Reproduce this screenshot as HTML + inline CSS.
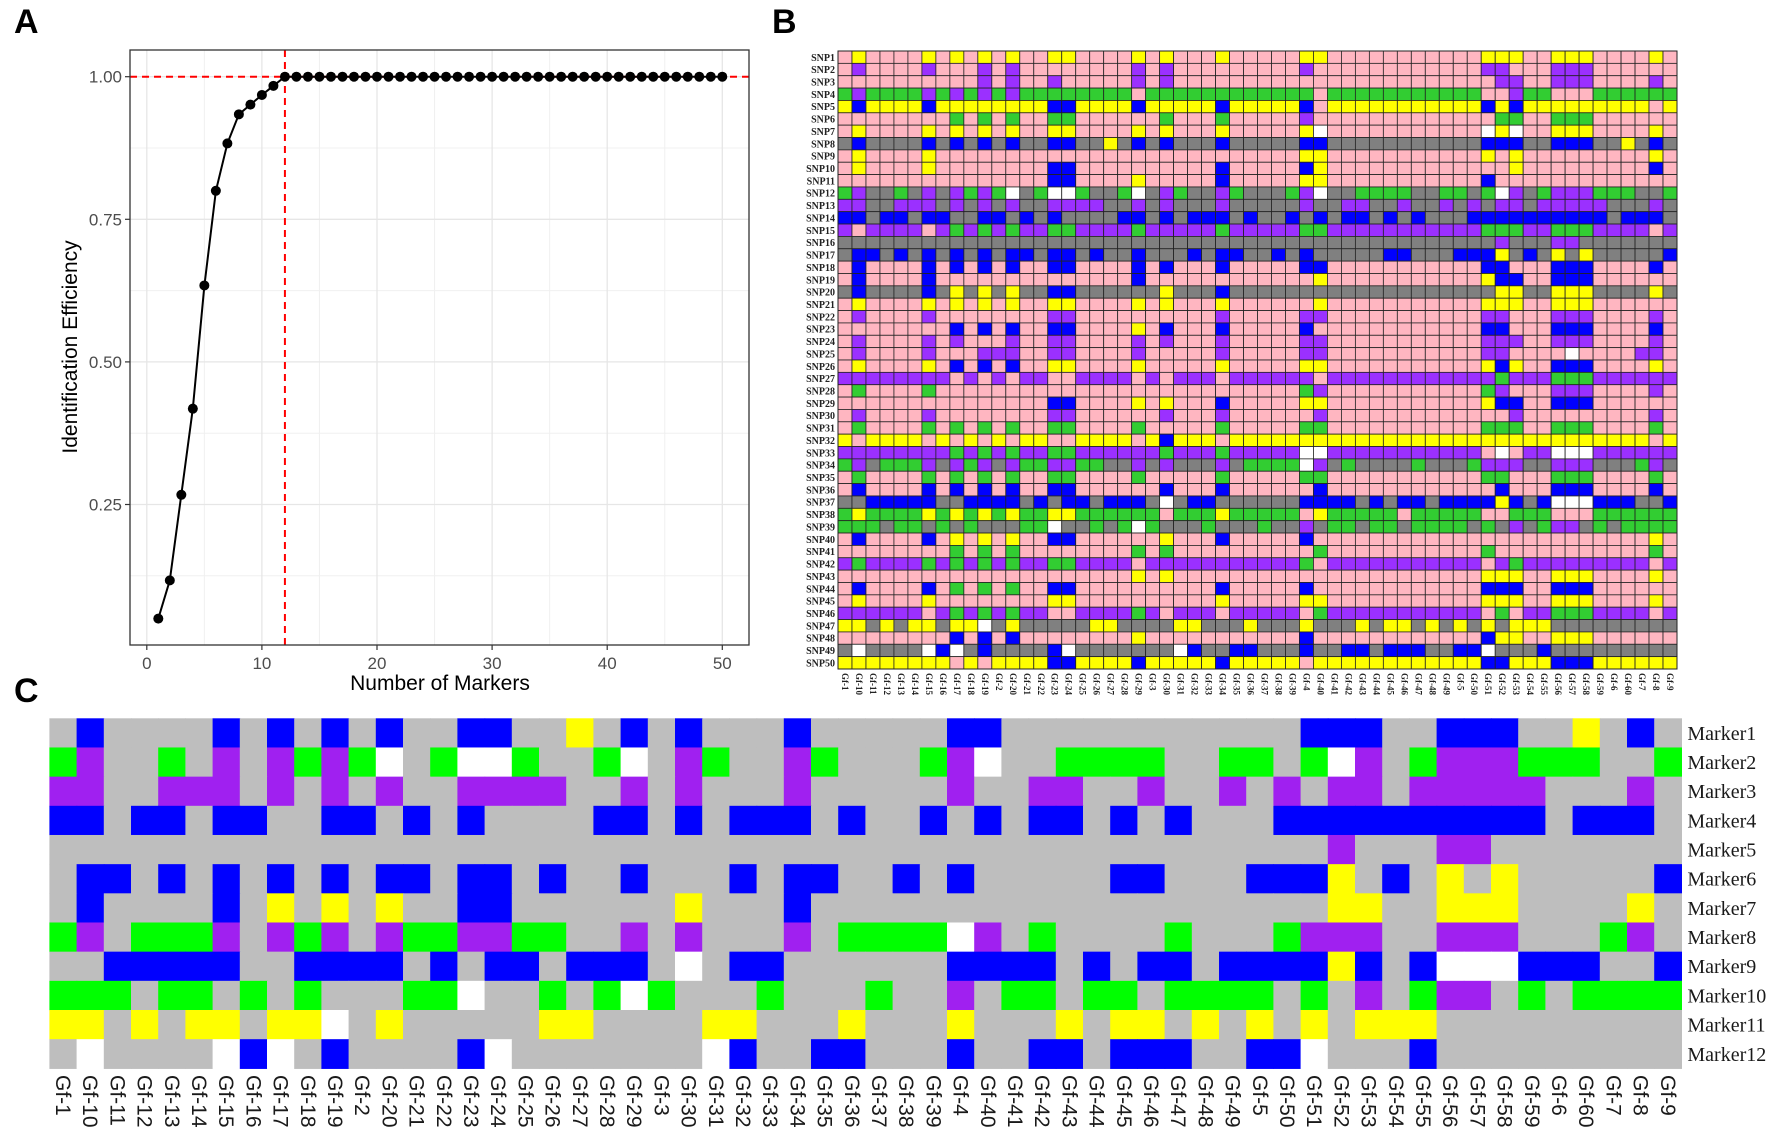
<!DOCTYPE html>
<html><head><meta charset="utf-8">
<style>
html,body{margin:0;padding:0;background:#fff;}
svg{display:block;}
text{font-family:"Liberation Sans",sans-serif;}
.serif{font-family:"Liberation Serif",serif;}
</style></head>
<body>
<svg id="fig" width="1772" height="1140" viewBox="0 0 1772 1140" xmlns="http://www.w3.org/2000/svg">
<rect width="1772" height="1140" fill="#fff"/>
<text x="14" y="33" font-size="34" font-weight="bold">A</text>
<text x="772" y="33" font-size="34" font-weight="bold">B</text>
<text x="14" y="702" font-size="34" font-weight="bold">C</text>
<g id="pa"></g>
<g id="pb"></g>
<g id="pc"></g>
</svg>
<script>
// ---------- Panel A data ----------
const effX = [1,2,3,4,5,6,7,8,9,10,11,12,13,14,15,16,17,18,19,20,21,22,23,24,25,26,27,28,29,30,31,32,33,34,35,36,37,38,39,40,41,42,43,44,45,46,47,48,49,50];
const effY = [0.05,0.117,0.267,0.418,0.634,0.80,0.883,0.934,0.951,0.968,0.984,1,1,1,1,1,1,1,1,1,1,1,1,1,1,1,1,1,1,1,1,1,1,1,1,1,1,1,1,1,1,1,1,1,1,1,1,1,1,1];
const xTicks = [0,10,20,30,40,50];
const yTicks = [0.25,0.50,0.75,1.00];
const yTickLabels = ["0.25","0.50","0.75","1.00"];
const cutoffX = 12;
const cutoffY = 1.0;

// ---------- Panel C data ----------
const genotypes = ["Gf-1","Gf-10","Gf-11","Gf-12","Gf-13","Gf-14","Gf-15","Gf-16","Gf-17","Gf-18","Gf-19","Gf-2","Gf-20","Gf-21","Gf-22","Gf-23","Gf-24","Gf-25","Gf-26","Gf-27","Gf-28","Gf-29","Gf-3","Gf-30","Gf-31","Gf-32","Gf-33","Gf-34","Gf-35","Gf-36","Gf-37","Gf-38","Gf-39","Gf-4","Gf-40","Gf-41","Gf-42","Gf-43","Gf-44","Gf-45","Gf-46","Gf-47","Gf-48","Gf-49","Gf-5","Gf-50","Gf-51","Gf-52","Gf-53","Gf-54","Gf-55","Gf-56","Gf-57","Gf-58","Gf-59","Gf-6","Gf-60","Gf-7","Gf-8","Gf-9"];
const markerNames = ["Marker1","Marker2","Marker3","Marker4","Marker5","Marker6","Marker7","Marker8","Marker9","Marker10","Marker11","Marker12"];
const markerRows = [
"gbggggbgbgbgbggbbggygbgbgggbgggggbbgggggggggggbbbggbbbggygbg",
"GpggGgpgpGpGwgGwwGggGwgpGggpGgggGpwggGGGGggGGgGwpgGpppGGGggG",
"ppggpppgpgpgpggppppggpgpgggpgggggpggppggpggpgpgppgpppppgggpg",
"bbgbbgbbggbbgbgbggggbbgbgbbbgbggbgbgbbgbgbgggbbbbbbbbbbgbbbg",
"gggggggggggggggggggggggggggggggggggggggggggggggpgggppggggggg",
"gbbgbgbgbgbgbbgbbgbggbgggbgbbggbgbgggggbbgggbbbygbgygygggggb",
"gbggggbgygygyggbbggggggygggbgggggggggggggggggggyyggyyyggggyg",
"GpgGGGpgpGpgpGGppGGggpgpgggpgGGGGwpgGggggGgggGpppggpppgggGpg",
"ggbbbbbggbbbbgbgbbgbbbgwgbbggggggbbbbgbgbbgbbbbybgbwwwbbbggb",
"GGGgGGgGgGgggGGwggGgGwGgggGgggGggpgGGgGGgGGGGgGgpgGppgGgGGGG",
"yygygyygyywgygggggyyggggyygggygggygggygyygygygygyyyggggggggg",
"gwggggwbwgbggggbwgggggggwbggbbgggbggbbgbbbggbbwgggbggggggggg"
];

// ---------- Panel B data ----------
const snpNames = Array.from({length:50},(_,i)=>"SNP"+(i+1));
const snpRows = [
"k|y:1,6,8,10,12,15,16,21,23,27,33,34,46,47,48,51,52,53,58",
"k|p:1,6,10,12,21,23,33,46,47,51,52,53",
"k|p:10,12,15,21,23,47,48,51,52,53,58",
"G|p:1,6,8,10,12,48|k:21,34,46,47,51,52,53",
"y|b:1,6,15,16,21,27,33,46,48|k:34,58",
"k|G:8,10,12,15,16,23,27,47,48,51,52,53|p:33",
"k|y:1,6,8,10,12,15,16,21,23,27,33,47,51,52,53,58|w:34,46,48",
"=0",
"k|y:1,6,33,34,46,48,58",
"k|y:1,6,34,48|b:15,16,27,33,58",
"k|b:15,16,27,46|y:21,33,34",
"=1",
"=2",
"=3",
"p|k:1,6,58|G:8,10,12,15,16,21,27,33,34,46,47,48,51,52,53",
"=4",
"=5",
"k|b:1,6,8,10,12,15,16,21,23,27,33,34,46,47,51,52,53,58",
"k|b:1,6,21,47,48,51,52,53|y:34,46",
"=6",
"k|y:1,6,8,10,12,15,16,21,23,27,34,46,47,48,51,52,53",
"k|p:1,6,15,16,27,33,34,46,47,51,52,53,58",
"k|b:8,10,12,15,16,23,27,33,46,47,51,52,53,58|y:21",
"k|p:1,6,8,12,15,16,21,23,27,33,34,46,47,48,51,52,53,58",
"k|p:1,6,10,11,12,15,16,21,27,33,34,46,47,57,58|w:52",
"k|y:1,6,15,16,21,27,33,34,46,48,58|b:8,10,12,47,51,52,53",
"p|k:8,10,12,15,16,21,23,27,34|G:47,51,52,53",
"k|G:1,6,33,46|p:34,47,51,52,53,58",
"k|b:15,16,27,47,48,51,52,53|y:21,23,33,34,46",
"k|p:1,6,15,16,23,27,34,48,58",
"k|G:1,6,8,10,12,15,16,21,27,33,34,46,47,48,51,52,53,58",
"y|k:1,6,8,10,12,15,16,21,27,58|b:23",
"p|G:8,10,12,15,16,23,27|w:33,34,47,51,52,53|k:46,48",
"=7",
"k|G:1,6,8,10,12,15,16,21,27,33,34,46,47,51,52,53,58",
"k|b:1,6,8,10,12,15,16,23,27,34,47,51,52,53,58",
"=8",
"G|y:1,6,8,10,12,15,16,27,34|k:23,33,40,46,47,51,52,53",
"=9",
"k|b:1,6,15,16,27,33|y:8,10,12,23,58",
"k|G:8,10,12,21,23,34,46,58",
"p|G:1,6,8,10,12,15,16,33,48|k:21,34,46,58",
"k|y:21,23,46,47,48,51,52,53,58",
"k|b:1,6,15,16,27,33,46,47,48,51,52,53|G:8,10,12",
"k|y:1,6,15,16,27,33,34,46,47,48,51,52,53,58",
"p|k:6,15,16,23,27,33,46,48,58|G:8,10,12,21,34,47,51,52,53",
"=10",
"k|b:8,10,12,33,46|y:21,47,48,51,52,53",
"=11",
"y|b:15,16,21,27,46,47,51,52,53|k:8,10,33"
];

const NS="http://www.w3.org/2000/svg";
function mk(parent,tag,attrs,txt){const e=document.createElementNS(NS,tag);for(const k in attrs)e.setAttribute(k,attrs[k]);if(txt!==undefined)e.textContent=txt;parent.appendChild(e);return e;}

// ===== Panel A =====
(function(){
const g=document.getElementById('pa');
const L=130,R=749,T=50,B=645;
const sx=v=>146.8+v*11.51;
const sy=v=>504.5-(v-0.25)*570.4;
let bg=mk(g,'rect',{x:L,y:T,width:R-L,height:B-T,fill:'#fff'});


[0.125,0.375,0.625,0.875].forEach(v=>{let l=mk(g,'line',{x1:L,x2:R,y1:sy(v),y2:sy(v),stroke:'#f0f0f0','stroke-width':1});});
[5,15,25,35,45].forEach(v=>{let l=mk(g,'line',{x1:sx(v),x2:sx(v),y1:T,y2:B,stroke:'#f0f0f0','stroke-width':1});});
yTicks.forEach((v,i)=>{
 let l=mk(g,'line',{x1:L,x2:R,y1:sy(v),y2:sy(v),stroke:'#e6e6e6','stroke-width':1.3});
 
 let tk=mk(g,'line',{x1:L-5,x2:L,y1:sy(v),y2:sy(v),stroke:'#333','stroke-width':1.2});
 
 let t=mk(g,'text',{x:L-8,y:sy(v)+6,'font-size':17,fill:'#4d4d4d','text-anchor':'end'},yTickLabels[i]);
 
});
xTicks.forEach(v=>{
 let l=mk(g,'line',{x1:sx(v),x2:sx(v),y1:T,y2:B,stroke:'#e6e6e6','stroke-width':1.3});
 
 let tk=mk(g,'line',{x1:sx(v),x2:sx(v),y1:B,y2:B+5,stroke:'#333','stroke-width':1.2});
 
 let t=mk(g,'text',{x:sx(v),y:B+24,'font-size':17,fill:'#4d4d4d','text-anchor':'middle'},String(v));
 
});
let hl=mk(g,'line',{x1:L,x2:R,y1:sy(cutoffY),y2:sy(cutoffY),stroke:'#ff0000','stroke-width':2,'stroke-dasharray':'7,5'});

let vl=mk(g,'line',{x1:sx(cutoffX),x2:sx(cutoffX),y1:T,y2:B,stroke:'#ff0000','stroke-width':2,'stroke-dasharray':'7,5'});

let d=effX.map((x,i)=>(i?'L':'M')+sx(x).toFixed(1)+','+sy(effY[i]).toFixed(1)).join(' ');
let p=mk(g,'path',{d:d,fill:'none',stroke:'#000','stroke-width':2});

effX.forEach((x,i)=>{let c=mk(g,'circle',{cx:sx(x),cy:sy(effY[i]),r:5,fill:'#000'});});
let fr=mk(g,'rect',{x:L,y:T,width:R-L,height:B-T,fill:'none',stroke:'#333','stroke-width':1.3});

let xt=mk(g,'text',{x:440,y:690,'font-size':21,fill:'#000','text-anchor':'middle'},'Number of Markers');

let yt=mk(g,'text',{x:0,y:0,'font-size':21,fill:'#000','text-anchor':'middle',transform:'translate(77,347) rotate(-90)'},'Identification Efficiency');

})();

// ===== Panel C =====
const colC={g:'#bebebe',b:'#0000ff',p:'#a020f0',G:'#00ff00',y:'#ffff00',w:'#ffffff'};
(function(){
const g=document.getElementById('pc');
const X0=49.4,Y0=718.3,CW=27.2,RH=29.17;
markerRows.forEach((row,r)=>{
 for(let c=0;c<row.length;c++){
  let e=mk(g,'rect',{x:(X0+c*CW).toFixed(2),y:(Y0+r*RH).toFixed(2),width:(CW+0.6).toFixed(2),height:(RH+0.6).toFixed(2),fill:colC[row[c]]});
  
  
 }
 let t=mk(g,'text',{x:X0+60*CW+6,y:Y0+r*RH+RH/2+7,'font-size':20,class:'serif',fill:'#1a1a1a'},markerNames[r]);
 
 
});
genotypes.forEach((n,c)=>{
 let t=mk(g,'text',{x:0,y:0,'font-size':21,fill:'#1a1a1a',transform:`translate(${(X0+c*CW+CW/2-7).toFixed(1)},1075) rotate(90)`},n);
 
 
});
})();

// ===== Panel B =====
const colB={k:'#ffb6c1',g:'#808080',b:'#0000ff',p:'#9b30ff',G:'#32cd32',y:'#ffff00',w:'#ffffff'};
function expandRow(spec){
 if(spec[0]==='='){return markerRows[+spec.slice(1)].split('');}
 const parts=spec.split('|');const arr=Array(60).fill(parts[0]);
 for(let i=1;i<parts.length;i++){const [cc,list]=parts[i].split(':');list.split(',').forEach(v=>arr[+v]=cc);}
 return arr;
}
(function(){
const g=document.getElementById('pb');
const X0=838,Y0=51,CW=(1677-838)/60,RH=(669-51)/50;
snpRows.forEach((spec,r)=>{
 const row=expandRow(spec);
 row.forEach((ch,c)=>{
  let e=mk(g,'rect',{x:(X0+c*CW).toFixed(2),y:(Y0+r*RH).toFixed(2),width:CW.toFixed(2),height:RH.toFixed(2),fill:colB[ch],stroke:'#222','stroke-width':0.8});
  
  
 });
 let t=mk(g,'text',{x:X0-3,y:(Y0+r*RH+RH/2+3.6).toFixed(1),'font-size':10,'font-weight':'bold',class:'serif','text-anchor':'end',fill:'#222'},snpNames[r]);
 
 
});
let fr=mk(g,'rect',{x:X0,y:Y0,width:1677-838,height:669-51,fill:'none',stroke:'#222','stroke-width':1});

genotypes.forEach((n,c)=>{
 let t=mk(g,'text',{x:0,y:0,'font-size':9,'font-weight':'bold',class:'serif',fill:'#222',transform:`translate(${(X0+c*CW+CW/2-3).toFixed(1)},673) rotate(90)`},n);
 
 
});
})();
</script>
</body></html>
